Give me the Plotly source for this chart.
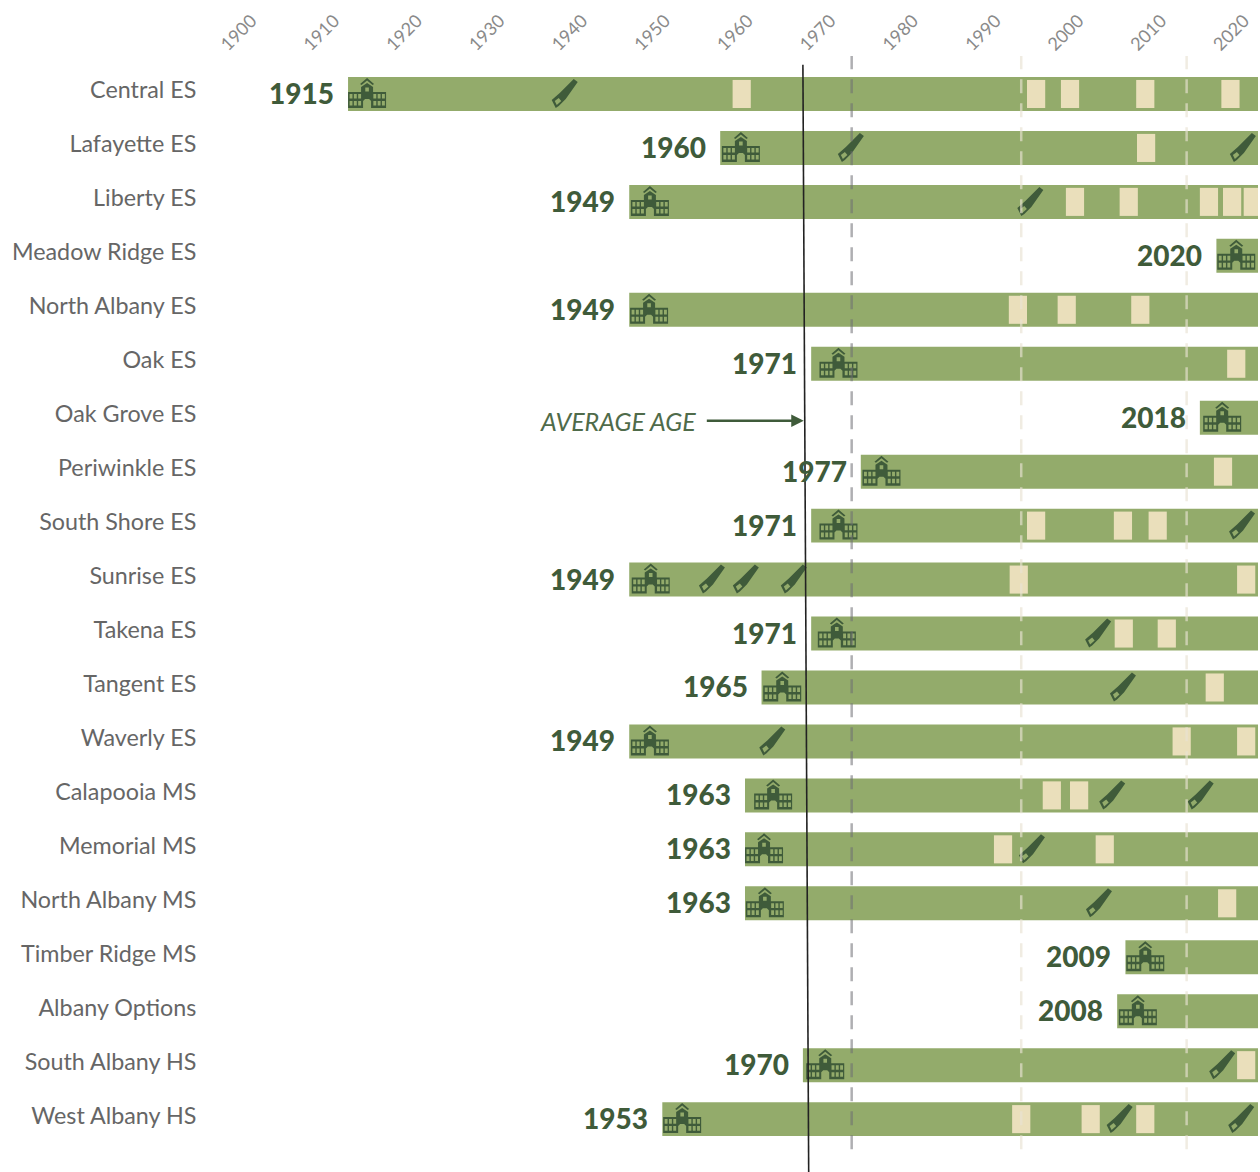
import plotly.graph_objects as go

schools = ["Central ES","Lafayette ES","Liberty ES","Meadow Ridge ES","North Albany ES","Oak ES","Oak Grove ES",
           "Periwinkle ES","South Shore ES","Sunrise ES","Takena ES","Tangent ES","Waverly ES","Calapooia MS",
           "Memorial MS","North Albany MS","Timber Ridge MS","Albany Options","South Albany HS","West Albany HS"]
built = [1915,1960,1949,2020,1949,1971,2018,1977,1971,1949,1971,1965,1949,1963,1963,1963,2009,2008,1970,1953]
school_icon_year = [1917.3,1962.5,1951.5,2022.4,1951.4,1974.3,2020.7,1979.5,1974.3,1951.6,1974.1,1967.5,1951.5,
                    1966.4,1965.3,1965.4,2011.4,2010.5,1972.7,1955.4]
end_year = 2025.03
# renovations (cream blocks), by school index
reno_rows = [0,0,0,0,0,1,2,2,2,2,2,4,4,4,5,7,8,8,8,9,9,10,10,11,12,12,13,13,14,14,15,18,19,19,19]
reno_years = [1962.6,1998.2,2002.3,2011.4,2021.7,2011.5,2002.9,2009.4,2019.1,2021.9,2024.4,1996.0,2001.9,2010.8,
              2022.4,2020.8,1998.2,2008.7,2012.9,1996.1,2023.6,2008.8,2014.0,2019.8,2015.8,2023.6,2000.1,2003.4,
              1994.2,2006.5,2021.3,2023.6,1996.4,2004.8,2011.4]
# major work (saw icons), by school index
saw_rows = [0,1,1,2,8,9,9,9,10,11,12,13,13,14,15,18,19,19]
saw_years = [1941.2,1975.8,2023.2,1997.5,2023.1,1959.0,1963.1,1968.9,2005.7,2008.7,1966.3,2007.4,2018.1,1997.7,
             2005.8,2020.7,2008.3,2023.0]
tick_years = list(range(1900,2021,10))
dash_years = [1975.9,1996.4,2016.4]
dash_colors = ["rgba(110,110,115,0.55)","rgba(232,226,210,0.65)","rgba(232,226,210,0.65)"]
avg_top, avg_bottom = 1970.0, 1970.7
arrow_from, arrow_to = 1958.2, 1970.1

BAR="#93AB6B"; CREAM="#EADFBB"; DARK="#3F5B3A"; GREY="#666666"
FONT="Lato"

rows=list(range(len(schools)))
fig=go.Figure()
fig.add_bar(y=rows,x=[end_year-b for b in built],base=built,orientation="h",width=0.63,
            marker=dict(color=BAR,line_width=0),showlegend=False,hoverinfo="skip")
fig.add_bar(y=reno_rows,x=[2.2]*len(reno_years),base=[v-1.1 for v in reno_years],orientation="h",width=0.52,
            marker=dict(color=CREAM,line_width=0),showlegend=False,hoverinfo="skip")

def P(pts):
    return "M"+" L".join(f"{x} {-y}" for x,y in pts)+" Z"
def rect(x0,y0,x1,y1):
    return P([(x0,y0),(x0,y1),(x1,y1),(x1,y0)])

school_path=" ".join([
    P([(-19,-2),(-6,-2),(-6,-7),(0,-11),(6,-7),(6,-2),(19,-2),(19,14),(4,14),(4,7),(2,5),(-2,5),(-4,7),(-4,14),(-19,14)]),
    P([(-7,-10),(0,-16),(7,-10),(5.5,-9),(0,-13.5),(-5.5,-9)]),
])
window_cells=[]
for cx in (-17.5,-13.2,-8.9,6.3,10.6,14.9):
    for cy in (0,7):
        window_cells.append(rect(cx,cy,cx+2.9,cy+4.6))
window_cells.append(rect(-1.8,-6.5,1.8,-2.5))
window_path=" ".join(window_cells)
saw_path=P([(-13,6),(-5,-1),(9,-15),(13,-12),(1,5),(-6,12),(-9,14)])
saw_hole=P([(-10,7),(-6,4),(-3.5,7),(-8,11)])

shapes=[]
def icon(path,x,y,color):
    shapes.append(dict(type="path",path=path,xsizemode="pixel",ysizemode="pixel",xanchor=x,yanchor=y,
                       xref="x",yref="y",fillcolor=color,line_width=0,layer="above"))

for r,yr in zip(rows,school_icon_year):
    icon(school_path,yr,r,DARK)
    icon(window_path,yr,r,BAR)
for r,yr in zip(saw_rows,saw_years):
    icon(saw_path,yr,r,DARK)
    icon(saw_hole,yr,r,BAR)

for d,c in zip(dash_years,dash_colors):
    shapes.append(dict(type="line",x0=d,x1=d,y0=-0.72,y1=19.6,xref="x",yref="y",
                       line=dict(color=c,width=2.5,dash="14px,10px"),layer="above"))
shapes.append(dict(type="line",x0=1899.75,x1=1899.75,y0=-0.48,y1=19.5,xref="x",yref="y",
                   line=dict(color="#dddddd",width=1.5),layer="below"))
shapes.append(dict(type="line",x0=avg_top,x1=avg_bottom,y0=-0.54,y1=19.98,xref="x",yref="y",
                   line=dict(color="#222222",width=1.6),layer="above"))

ann=[dict(x=b,y=r,text=str(b),showarrow=False,xanchor="right",xshift=-12,yshift=1,
          font=dict(family=FONT,size=28,color=DARK,weight=900)) for r,b in zip(rows,built)]
ann.append(dict(x=1957.3,y=6,text="<i>AVERAGE AGE</i>",showarrow=False,xanchor="right",yshift=-3,
                font=dict(family=FONT,size=25,color="#4f6b4a")))
ann.append(dict(x=arrow_to,y=6,ax=arrow_from,ay=6,axref="x",ayref="y",xref="x",yref="y",text="",showarrow=True,
                arrowhead=2,arrowsize=1,arrowwidth=2.5,arrowcolor=DARK,yshift=-3))

fig.update_layout(
    width=1260,height=1172,autosize=False,barmode="overlay",
    margin=dict(l=224,r=2,t=56,b=0),paper_bgcolor="white",plot_bgcolor="white",
    shapes=shapes,annotations=ann,showlegend=False,
    xaxis=dict(side="top",range=[1900,end_year],tickmode="array",tickvals=tick_years,
               ticktext=[str(t) for t in tick_years],tickangle=-45,showgrid=False,zeroline=False,showline=False,
               ticks="",ticklabelshift=-2,ticklabelstandoff=-3,tickfont=dict(family=FONT,size=18,color="#8a8a8a")),
    yaxis=dict(range=[19.98,-0.704],tickmode="array",tickvals=[r-0.07 for r in rows],ticktext=schools,showgrid=False,zeroline=False,
               showline=False,ticks="outside",ticklen=22,tickcolor="rgba(0,0,0,0)",
               tickfont=dict(family=FONT,size=23.3,color=GREY)),
)
fig.write_html("out.html",post_script="document.body.style.margin='0';",config=dict(displayModeBar=False))
